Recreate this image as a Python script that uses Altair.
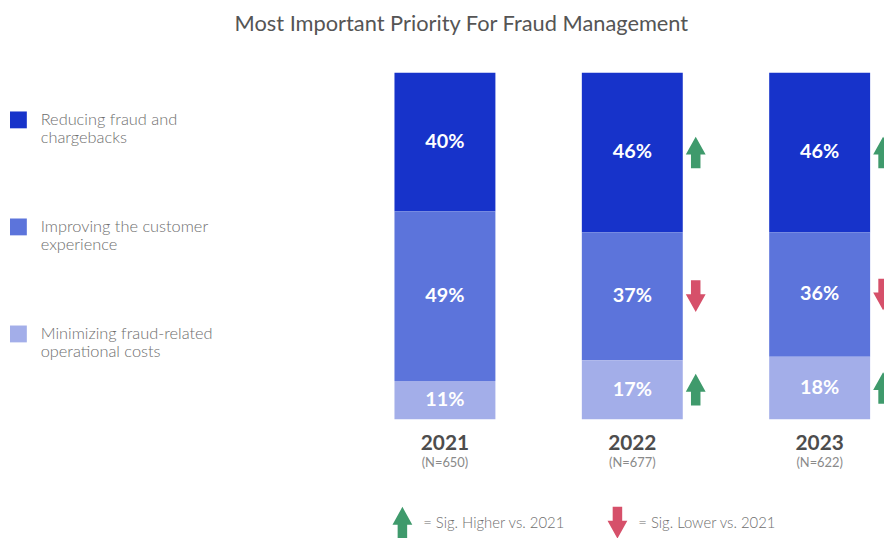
import altair as alt
import pandas as pd

# ---------------- data ----------------
categories = [
    "Reducing fraud and chargebacks",
    "Improving the customer experience",
    "Minimizing fraud-related operational costs",
]
category_lines = [
    ["Reducing fraud and", "chargebacks"],
    ["Improving the customer", "experience"],
    ["Minimizing fraud-related", "operational costs"],
]
years = ["2021", "2022", "2023"]
sample_sizes = ["(N=650)", "(N=677)", "(N=622)"]

reducing = [40, 46, 46]
improving = [49, 37, 36]
minimizing = [11, 17, 18]

HIGHER = "Sig. Higher vs. 2021"
LOWER = "Sig. Lower vs. 2021"
sig_reducing = [None, HIGHER, HIGHER]
sig_improving = [None, LOWER, LOWER]
sig_minimizing = [None, HIGHER, HIGHER]

colors = ["#1733CA", "#5C74DB", "#A3AEE9"]
sig_colors = ["#3F9A6C", "#D6506A"]

# ---------------- tables ----------------
rows = []
series = [reducing, improving, minimizing]
sigs = [sig_reducing, sig_improving, sig_minimizing]
for ci, cat in enumerate(categories):
    for yi, yr in enumerate(years):
        rows.append({
            "year": yr,
            "category": cat,
            "value": series[ci][yi],
            "rank": len(categories) - ci,   # bottom of stack = last category
            "sig": sigs[ci][yi],
        })
df = pd.DataFrame(rows)
df_years = pd.DataFrame({"year": years, "n": sample_sizes})

# ---------------- shapes ----------------
UP = "M0,-1L0.625,0.125L0.3,0.125L0.3,1L-0.3,1L-0.3,0.125L-0.625,0.125Z"
DOWN = "M0,1L0.625,-0.125L0.3,-0.125L0.3,-1L-0.3,-1L-0.3,-0.125L-0.625,-0.125Z"

FONT = "Lato"

# legend label wrapping
expr = "datum.label"
for cat, lines in zip(reversed(categories), reversed(category_lines)):
    arr = "[" + ", ".join("'" + l + "'" for l in lines) + "]"
    expr = f"datum.label == '{cat}' ? {arr} : ({expr})"

x_scale = alt.Scale(domain=years, range=[390, 870], paddingInner=0.4613, paddingOuter=0)
y_scale = alt.Scale(domain=[0, 100], range=[372.5, 23])

base = alt.Chart(df).transform_stack(
    stack="value", groupby=["year"], as_=["y0", "y1"],
    sort=[alt.SortField("rank", order="ascending")],
).transform_calculate(
    mid="(datum.y0 + datum.y1) / 2",
    label="datum.value + '%'",
)

bars = base.mark_bar().encode(
    x=alt.X("year:N", scale=x_scale, axis=None),
    y=alt.Y("y0:Q", scale=y_scale, axis=None),
    y2="y1:Q",
    color=alt.Color(
        "category:N",
        scale=alt.Scale(domain=categories, range=colors),
        legend=alt.Legend(
            title=None, orient="none", legendX=2, legendY=62,
            symbolType="square", symbolSize=289, symbolStrokeWidth=0,
            symbolOpacity=1, labelFont=FONT, labelFontSize=16.5,
            labelColor="#6E6E6E", labelFontWeight=300, labelOffset=14,
            labelLimit=400, labelExpr=expr, labelBaseline="middle",
            rowPadding=72, padding=0,
        ),
    ),
)

labels = base.mark_text(
    font=FONT, fontSize=20, fontWeight="bold", color="white", baseline="middle"
).encode(
    x=alt.X("year:N", scale=x_scale, axis=None),
    y=alt.Y("mid:Q", scale=y_scale, axis=None),
    text="label:N",
)

arrow_legend = alt.Legend(
    title=None, orient="none", legendX=382, legendY=461,
    direction="horizontal", symbolSize=1024, symbolStrokeWidth=0,
    symbolOpacity=1, labelFont=FONT, labelFontSize=15, labelColor="#6E6E6E",
    labelFontWeight=300, labelOffset=5, labelExpr="'= ' + datum.label",
    columnPadding=36, padding=0,
)

arrows = base.transform_filter("datum.sig != null").mark_point(
    filled=True, size=1024, opacity=1, strokeWidth=0, xOffset=64
).encode(
    x=alt.X("year:N", scale=x_scale, axis=None),
    y=alt.Y("mid:Q", scale=y_scale, axis=None),
    shape=alt.Shape("sig:N", scale=alt.Scale(domain=[HIGHER, LOWER], range=[UP, DOWN]),
                    legend=arrow_legend),
    fill=alt.Fill("sig:N", scale=alt.Scale(domain=[HIGHER, LOWER], range=sig_colors),
                  legend=arrow_legend),
)

year_text = alt.Chart(df_years).mark_text(
    font=FONT, fontSize=21, fontWeight="bold", color="#4D4D4D", baseline="middle"
).encode(
    x=alt.X("year:N", scale=x_scale, axis=None),
    y=alt.value(398),
    text="year:N",
)

n_text = alt.Chart(df_years).mark_text(
    font=FONT, fontSize=13, color="#8A8A8A", baseline="middle"
).encode(
    x=alt.X("year:N", scale=x_scale, axis=None),
    y=alt.value(417),
    text="n:N",
)

chart = alt.layer(bars, labels, arrows, year_text, n_text).properties(
    width=884,
    height=490,
    autosize=alt.AutoSizeParams(type="none"),
    padding={"left": 0, "top": 40, "right": 0, "bottom": 0},
    title=alt.TitleParams(
        "Most Important Priority For Fraud Management",
        font=FONT, fontSize=22, fontWeight="normal", color="#555555",
        anchor="middle", frame="group", dx=15.5, dy=22, offset=19, baseline="alphabetic",
    ),
).configure_view(stroke=None)

chart.save("out.html", embed_options={"renderer": "svg", "actions": False})
